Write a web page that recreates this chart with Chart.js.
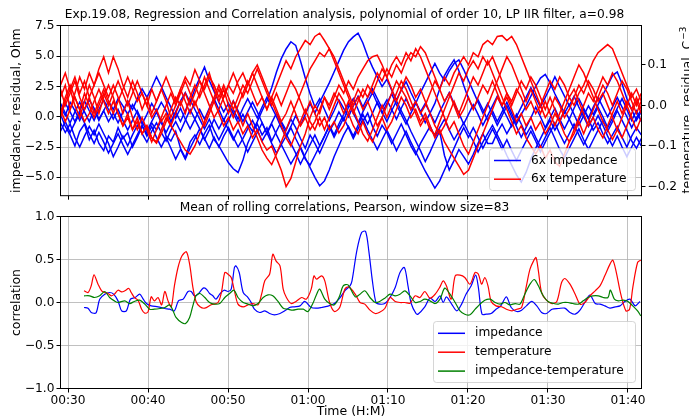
<!DOCTYPE html>
<html>
<head>
<meta charset="utf-8">
<script src="https://cdn.jsdelivr.net/npm/chart.js@4.4.1/dist/chart.umd.min.js"></script>
<style>
  html, body { margin: 0; padding: 0; background: #fff; }
  #wrap { position: relative; width: 689px; height: 419px; overflow: hidden; }
  #topChart { position: absolute; left: 0; top: 0; }
  #bottomChart { position: absolute; left: 0; top: 198px; }
</style>
</head>
<body>
<div id="wrap">
  <canvas id="topChart" width="689" height="205"></canvas>
  <canvas id="bottomChart" width="689" height="221"></canvas>
</div>
<script>
// time is in minutes after 00:30
const startMin = 30;
const timeTicks = [0, 10, 20, 30, 40, 50, 60, 70];
const impTicks = [-5, -2.5, 0, 2.5, 5, 7.5];
const tempTicks = [-0.2, -0.1, 0, 0.1];
const corrTicks = [-1, -0.5, 0, 0.5, 1];

// top panel: residual traces, sampled every 0.6 min from -0.94
const topStart = -0.94;
const topStep = 0.6;

// impedance residuals, Ohm
const imp1 = [0.2,-0.8,-1.5,-2.4,-1.2,-0.6,-1.9,-1.1,-2.2,-2.8,
  -1.6,-2.1,-0.9,-1.8,-1.3,-2.5,-1.7,-0.8,-1.4,-0.5,
  -1.1,-0.3,-1.6,-2.0,-1.2,-2.6,-3.4,-2.1,-1.5,-2.3,
  -1.4,-0.7,-1.9,-2.4,-3.1,-3.8,-4.3,-4.6,-3.6,-2.2,
  -1.3,-0.6,-1.5,-0.9,-2.0,-1.2,-0.4,-1.1,-0.2,-0.9,
  -1.8,-2.6,-1.5,-2.2,-3.0,-2.1,-1.2,-0.5,0.4,-0.3,
  0.8,1.5,0.6,-0.4,0.3,-0.8,-1.6,-0.7,-1.3,-2.2,
  -1.4,-0.6,-1.5,-2.4,-3.1,-2.2,-1.5,-0.8,-1.6,-0.9,
  -0.2,-1.1,-1.9,-1.2,-0.5,-1.3,-2.0,-2.9,-2.1,-1.4,
  -0.7,-1.5,-2.3,-3.2,-4.0,-4.8,-5.4,-4.6,-3.5,-2.6,
  -1.8,-1.0,-0.3,-1.1,-0.4,0.5,-0.2,-1.0,-0.3,0.6,
  -0.2,-1.1,-0.5,-1.4,-2.2,-1.5,-0.8,-1.7,-2.5,-1.6,
  -0.9,-1.5];
const imp2 = [0.8,0.1,1.2,0.5,-0.3,0.6,1.4,0.7,-0.2,0.5,
  1.3,0.6,1.5,0.9,0.2,1.0,0.3,-0.6,0.2,1.1,
  0.4,1.2,0.5,-0.4,0.4,1.3,2.0,1.2,2.3,3.2,
  4.1,3.0,2.1,1.2,0.4,1.1,0.3,-0.5,0.2,-0.6,
  -1.2,-0.4,0.5,1.3,2.4,3.7,4.8,5.6,6.2,5.9,
  4.6,3.2,1.9,0.8,1.5,0.6,-0.3,0.5,1.4,0.7,
  0.0,0.9,1.7,0.8,1.6,2.3,1.5,0.7,1.4,0.6,
  -0.2,0.7,1.5,0.6,1.2,0.4,-0.5,0.3,1.1,2.3,
  3.4,4.1,4.7,3.8,2.6,1.5,0.7,1.4,0.6,-0.3,
  0.5,-0.4,0.4,1.2,0.3,-0.6,0.2,0.9,1.7,2.5,
  3.2,3.5,2.8,1.9,1.1,0.3,1.0,0.2,-0.7,0.1,
  0.9,0.2,1.0,1.8,2.6,3.4,3.7,2.7,1.5,0.6,
  -0.3,0.4];
const imp3 = [-0.5,-1.3,-0.6,-1.7,-2.5,-1.6,-0.8,-1.5,-0.6,-1.4,
  -2.2,-3.3,-2.5,-1.6,-2.4,-1.5,-0.7,-1.4,-2.1,-1.2,
  -0.5,-1.3,-2.0,-1.1,-0.4,-1.2,-0.3,0.6,-0.2,-1.0,
  -1.8,-2.6,-1.7,-2.5,-1.6,-0.9,-1.7,-2.5,-1.8,-1.0,
  -0.3,-1.1,-2.0,-1.3,-2.2,-3.0,-2.3,-3.1,-3.9,-3.2,
  -2.5,-3.4,-4.2,-5.0,-5.7,-5.3,-4.4,-3.3,-2.4,-1.5,
  -0.8,-1.6,-0.7,0.2,-0.6,0.3,1.2,0.4,-0.4,0.5,
  1.3,0.5,-0.3,-1.2,-2.0,-2.8,-3.7,-2.9,-2.0,-1.2,
  -3.2,-4.4,-3.6,-2.7,-3.3,-3.9,-3.1,-2.2,-1.4,-2.2,
  -2.2,-1.3,-0.6,-1.4,-0.7,0.2,-0.6,-1.5,-0.8,-1.7,
  -2.5,-1.7,-0.9,-1.8,-2.7,-3.4,-2.6,-1.8,-1.0,-1.9,
  -2.7,-1.9,-1.1,-0.3,-1.2,-0.4,0.5,-0.3,-1.1,-2.0,
  -2.6,-1.8];
const imp4 = [1.1,0.3,-0.5,0.4,1.2,0.4,-0.4,0.6,-0.3,0.5,
  -0.4,0.3,-0.5,0.4,1.3,0.6,1.5,2.3,1.6,2.4,
  3.3,2.5,1.6,0.8,-0.1,0.7,-0.2,-1.0,-0.2,0.6,
  -0.2,0.7,1.5,0.6,-0.3,0.5,1.3,0.5,-0.4,0.4,
  1.2,0.4,-0.5,-1.4,-0.6,-1.5,-2.3,-1.6,-0.8,0.1,
  -0.7,0.2,1.1,0.3,1.2,2.0,2.8,3.7,4.6,5.5,
  6.2,6.6,6.9,6.1,5.0,4.1,3.3,2.5,3.1,2.2,
  1.4,2.2,2.9,2.0,1.2,0.4,1.1,0.3,-0.5,0.4,
  1.2,2.0,1.1,0.3,-0.6,0.2,1.0,0.2,-0.7,0.1,
  0.9,1.7,0.8,0.0,-0.8,0.0,0.8,1.6,2.4,1.6,
  0.8,1.6,2.4,3.3,2.5,1.7,0.9,1.7,0.8,0.0,
  -0.8,0.0,0.8,0.0,-0.9,-0.1,0.7,1.5,0.6,-0.3,
  0.5,-0.4];
const imp5 = [-1.2,-0.4,-1.3,-0.5,0.3,-0.5,-1.4,-2.2,-1.3,-2.1,
  -3.0,-2.2,-1.4,-2.3,-3.1,-2.3,-1.5,-0.7,-1.6,-0.8,
  -1.7,-2.5,-1.7,-2.6,-3.5,-2.7,-3.5,-2.6,-1.8,-1.0,
  -1.9,-1.1,-0.2,-1.0,-0.2,-1.1,-1.9,-1.1,-2.0,-2.9,
  -2.1,-1.3,-0.5,-1.3,-0.5,0.3,-0.5,-1.4,-2.2,-3.0,
  -3.9,-3.1,-2.3,-1.5,-2.4,-1.6,-0.8,-1.7,-0.9,-0.1,
  -0.9,-1.8,-1.0,-0.2,-1.1,-1.9,-2.7,-1.9,-1.1,-1.9,
  -2.8,-2.0,-1.2,-2.1,-2.9,-3.7,-4.5,-5.2,-5.9,-5.3,
  -4.4,-3.5,-2.6,-1.7,-0.9,-1.7,-0.9,-1.7,-2.6,-1.8,
  -1.0,-1.8,-2.7,-1.9,-2.8,-3.6,-2.8,-2.0,-1.2,-2.0,
  -2.9,-2.1,-1.3,-0.5,-1.4,-2.2,-1.4,-0.6,-1.5,-2.3,
  -1.5,-0.7,0.1,-0.7,-1.6,-2.4,-1.6,-2.5,-3.3,-2.5,
  -1.7,-2.4];
const imp6 = [0.3,1.1,0.4,-0.4,0.5,1.3,0.5,-0.3,0.6,1.4,
  0.6,-0.2,0.6,-0.3,-1.1,-0.3,0.5,-0.4,-1.2,-0.4,
  0.4,-0.5,-1.3,-0.5,0.4,-0.4,0.5,1.4,0.6,-0.2,
  -1.0,-0.2,-1.1,-1.9,-1.1,-0.3,0.6,-0.2,0.7,1.5,
  0.7,-0.1,0.8,1.6,0.8,0.0,-0.9,-1.7,-0.9,-1.8,
  -2.6,-3.5,-4.0,-3.2,-2.4,-1.6,-0.7,-1.5,-0.6,0.2,
  1.1,0.3,-0.5,0.4,1.2,2.0,1.1,0.3,1.1,1.9,
  1.0,0.2,-0.6,0.3,1.1,2.0,2.8,3.6,4.4,3.6,
  3.0,3.8,4.4,4.7,3.9,3.0,2.1,1.2,0.3,1.1,
  0.2,-0.7,0.1,0.9,0.0,-0.8,-1.7,-0.9,-0.1,0.8,
  0.0,-0.9,-0.1,0.7,-0.2,-1.0,-0.2,0.7,1.5,0.7,
  -0.1,0.8,1.6,0.8,0.0,0.8,1.6,0.8,0.0,-0.9,
  -0.1,0.6];

// temperature residuals, C
const temp1 = [0.02,0.05,-0.01,0.03,0.07,0.04,0.08,0.05,0.09,0.12,
  0.08,0.12,0.09,0.05,0.02,0.06,0.03,-0.01,0.02,-0.02,
  0.01,0.04,0.01,-0.03,0.00,0.04,0.01,-0.02,0.01,-0.02,
  -0.05,-0.02,0.01,-0.02,-0.05,-0.03,-0.06,-0.04,-0.07,-0.05,
  -0.08,-0.06,-0.09,-0.11,-0.10,-0.13,-0.16,-0.20,-0.18,-0.14,
  -0.10,-0.07,-0.03,0.00,-0.02,0.02,0.00,0.03,0.01,-0.02,
  0.01,-0.02,0.01,0.04,0.02,0.05,0.08,0.06,0.09,0.07,
  0.10,0.08,0.11,0.13,0.12,0.145,0.13,0.10,0.07,0.04,
  0.01,0.03,0.00,-0.03,-0.01,0.02,-0.01,0.02,0.05,0.03,
  0.06,0.03,0.00,0.02,-0.01,-0.04,-0.02,-0.05,-0.03,-0.06,
  -0.04,-0.07,-0.05,-0.02,-0.04,-0.01,0.02,0.00,0.03,0.05,
  0.08,0.11,0.13,0.14,0.15,0.14,0.11,0.08,0.05,0.02,
  0.04,0.01];
const temp2 = [-0.03,0.01,0.04,0.00,-0.03,0.01,0.05,0.02,-0.02,0.02,
  0.05,0.02,-0.02,-0.05,-0.02,-0.06,-0.03,-0.07,-0.05,-0.08,
  -0.09,-0.06,-0.03,-0.05,-0.02,0.01,-0.02,0.02,0.05,0.02,
  0.05,0.08,0.04,0.01,0.04,0.00,-0.03,0.00,0.03,0.06,
  0.03,0.00,0.02,-0.01,0.02,0.05,0.08,0.11,0.09,0.12,
  0.14,0.16,0.15,0.17,0.178,0.16,0.14,0.12,0.09,0.06,
  0.03,0.00,0.02,-0.01,0.01,-0.02,-0.05,-0.03,-0.06,-0.04,
  -0.01,0.02,0.00,-0.03,-0.01,-0.04,-0.02,-0.05,-0.08,-0.06,
  -0.09,-0.11,-0.13,-0.15,-0.17,-0.16,-0.13,-0.10,-0.07,-0.04,
  -0.01,0.02,0.00,0.03,0.01,0.04,0.02,-0.01,0.01,-0.02,
  0.00,0.03,0.06,0.04,0.07,0.05,0.02,0.04,0.01,-0.02,
  -0.05,-0.03,-0.06,-0.08,-0.05,-0.02,0.01,-0.02,0.01,-0.01,
  0.02,-0.01];
const temp3 = [0.04,0.00,0.03,0.06,0.02,-0.01,0.02,-0.02,0.01,0.04,
  0.01,-0.02,0.01,0.04,0.07,0.04,0.01,0.03,0.00,-0.03,
  -0.01,-0.04,-0.02,-0.05,-0.07,-0.09,-0.11,-0.12,-0.10,-0.07,
  -0.04,-0.01,0.02,0.05,0.02,0.05,0.08,0.05,0.02,0.05,
  0.08,0.05,0.02,-0.01,0.02,-0.01,-0.04,-0.02,0.01,-0.02,
  -0.05,-0.03,-0.06,-0.04,-0.01,0.02,-0.01,0.02,0.05,0.03,
  0.06,0.04,0.07,0.09,0.11,0.12,0.124,0.10,0.07,0.04,
  0.01,0.04,0.02,-0.01,0.01,-0.02,0.00,0.03,0.06,0.04,
  0.07,0.05,0.08,0.10,0.12,0.10,0.13,0.12,0.15,0.16,
  0.15,0.17,0.172,0.16,0.17,0.15,0.12,0.09,0.06,0.03,
  0.00,-0.03,-0.01,0.02,0.00,-0.03,-0.01,0.02,0.05,0.03,
  0.06,0.04,0.01,0.03,0.00,-0.03,-0.06,-0.08,-0.05,-0.02,
  0.01,-0.02];
const temp4 = [-0.02,0.02,0.05,0.02,-0.01,0.03,0.00,-0.03,0.00,0.03,
  0.00,0.03,0.06,0.03,0.00,0.03,0.06,0.03,0.00,0.04,
  0.01,0.04,0.07,0.04,0.01,0.04,0.07,0.05,0.088,0.06,
  0.03,0.00,-0.03,-0.01,0.02,0.05,0.03,0.06,0.08,0.05,
  0.08,0.10,0.07,0.04,0.01,-0.02,-0.05,-0.08,-0.10,-0.07,
  -0.04,-0.01,-0.04,-0.06,-0.03,-0.06,-0.03,0.00,0.03,0.01,
  -0.02,-0.05,-0.07,-0.04,-0.07,-0.09,-0.06,-0.03,0.00,0.03,
  0.06,0.04,0.07,0.05,0.02,0.04,0.01,-0.02,-0.05,-0.07,
  -0.05,-0.02,0.01,-0.02,0.01,0.04,0.07,0.05,0.08,0.11,
  0.08,0.05,0.02,-0.01,-0.04,-0.07,-0.05,-0.08,-0.10,-0.12,
  -0.10,-0.13,-0.11,-0.14,-0.15,-0.12,-0.09,-0.06,-0.03,0.00,
  0.03,0.01,0.04,0.07,0.05,0.08,0.06,0.03,0.00,-0.03,
  -0.06,-0.03];
const temp5 = [0.05,0.08,0.04,0.07,0.03,0.06,0.02,0.05,0.08,0.05,
  0.02,0.05,0.02,-0.02,0.01,-0.03,-0.06,-0.03,-0.06,-0.09,
  -0.06,-0.03,0.00,0.03,0.00,0.03,0.06,0.03,0.00,0.03,
  0.07,0.04,0.01,0.04,0.01,-0.02,0.01,-0.02,-0.05,-0.02,
  -0.05,-0.08,-0.11,-0.13,-0.146,-0.12,-0.09,-0.06,-0.03,0.00,
  0.03,0.06,0.09,0.11,0.13,0.12,0.14,0.11,0.08,0.05,
  0.02,-0.01,-0.04,-0.07,-0.088,-0.06,-0.03,0.00,-0.03,0.00,
  0.03,0.06,0.04,0.01,-0.02,-0.05,-0.03,-0.06,-0.072,-0.04,
  -0.01,0.02,0.05,0.08,0.06,0.09,0.11,0.09,0.12,0.10,
  0.12,0.09,0.06,0.03,0.00,0.03,0.06,0.04,0.07,0.05,
  0.02,-0.01,0.02,-0.01,-0.04,-0.07,-0.09,-0.07,-0.04,-0.07,
  -0.04,-0.01,0.02,0.05,0.03,0.00,0.03,0.06,0.04,0.01,
  -0.02,0.01];
const temp6 = [-0.01,-0.04,-0.01,0.02,-0.01,-0.04,-0.02,0.01,0.04,0.01,
  -0.02,0.01,-0.02,-0.05,-0.03,-0.06,-0.04,-0.07,-0.05,-0.08,
  -0.093,-0.07,-0.04,-0.01,0.02,0.00,0.03,0.00,0.03,0.06,
  0.04,0.07,0.05,0.02,0.05,0.02,-0.01,0.02,0.05,0.03,
  0.06,0.09,0.06,0.03,0.00,0.03,0.00,0.03,0.06,0.04,
  0.01,-0.02,0.01,-0.02,-0.05,-0.03,-0.06,-0.04,-0.068,-0.05,
  -0.02,0.01,0.04,0.02,0.05,0.03,0.06,0.09,0.07,0.10,
  0.12,0.10,0.13,0.11,0.14,0.12,0.09,0.06,0.03,0.00,
  -0.03,-0.06,-0.04,-0.07,-0.10,-0.12,-0.09,-0.06,-0.03,0.00,
  0.03,0.06,0.09,0.12,0.10,0.07,0.04,0.01,0.04,0.01,
  -0.02,0.01,-0.02,-0.05,-0.02,0.01,0.04,0.07,0.10,0.08,
  0.05,0.02,-0.01,-0.04,-0.06,-0.084,-0.06,-0.03,0.00,0.03,
  0.00,0.03];

// bottom panel: mean rolling correlations, [minutes after 00:30, r]
const corrImpedance = [[2,-0.058],[2.5,-0.066],[2.9,-0.116],[3.5,-0.12],[3.96,0.039],[4.6,0.097],[5.2,0.116],[5.7,0.097],[6.25,0.019],[6.7,-0.097],[7.3,-0.097],[7.8,0.039],[8.4,0.058],[8.96,0.097],[9.4,0.039],[9.8,-0.012],[10.4,-0.039],[11.25,-0.05],[12.1,-0.07],[12.7,-0.078],[13.3,-0.097],[13.8,0.019],[14.4,0.039],[15,0.128],[15.4,0.128],[15.8,0.078],[16.25,0.097],[16.9,0.167],[17.3,0.155],[17.7,0.105],[18.1,0.078],[18.5,0.039],[18.96,0.097],[19.5,0.143],[20,0.128],[20.4,0.155],[20.8,0.407],[21,0.426],[21.4,0.349],[21.9,0.116],[22.5,0.058],[22.9,0],[23.3,-0.078],[23.96,-0.116],[24.6,-0.097],[25.2,-0.128],[25.8,-0.143],[26.5,-0.128],[27.1,-0.097],[27.7,-0.058],[28.3,-0.05],[29,-0.039],[29.6,0.012],[30.4,-0.058],[31,-0.066],[31.7,-0.058],[32.5,-0.043],[33.3,-0.012],[33.96,0.05],[34.6,0.136],[35.25,0.194],[35.5,0.252],[36.1,0.601],[36.7,0.814],[37.2,0.826],[37.6,0.601],[38.05,0.252],[38.5,0],[38.96,-0.019],[39.6,-0.012],[40.25,0.058],[40.9,0.174],[41.5,0.349],[42.05,0.407],[42.5,0.194],[42.9,-0.012],[43.5,-0.128],[43.75,-0.136],[44.6,-0.05],[45.25,0.05],[45.9,0.012],[46.5,0.078],[46.9,0],[47.3,0.066],[47.96,-0.019],[48.6,-0.097],[49.2,-0.019],[49.75,0.097],[50.4,0.194],[50.96,0.318],[51.3,0.174],[51.75,-0.136],[52.3,-0.136],[52.9,-0.128],[53.5,-0.078],[54.1,-0.039],[54.8,0.066],[55.4,-0.058],[56.1,-0.105],[56.7,-0.089],[57.3,-0.039],[57.96,0.012],[58.6,-0.039],[59.2,-0.116],[59.8,-0.128],[60.5,-0.078],[61.3,-0.07],[62.1,-0.066],[62.75,-0.116],[63.4,-0.136],[64,-0.089],[64.6,0],[65.25,0.085],[65.9,-0.012],[66.5,-0.019],[67.1,-0.039],[67.75,-0.066],[68.4,-0.05],[69,-0.039],[69.6,0.012],[70.25,0.039],[70.9,-0.039],[71.5,0.012]];
const corrTemperature = [[2,0.136],[2.5,0.116],[2.9,0.194],[3.25,0.322],[3.75,0.213],[4.2,0.136],[4.6,0.116],[5,0.105],[5.4,0.078],[5.8,0.097],[6.25,0.143],[6.7,0.124],[7.1,0.136],[7.6,0.163],[7.9,0.116],[8.3,0.058],[8.75,0.027],[9.2,-0.078],[9.6,-0.124],[10,-0.109],[10.4,0.066],[10.8,0.019],[11.25,0.058],[11.7,-0.027],[12.1,0.128],[12.5,0.019],[12.9,-0.05],[13.3,0.194],[13.75,0.407],[14.25,0.543],[14.8,0.589],[15.2,0.446],[15.6,0.182],[16,0.012],[16.5,-0.05],[17.1,-0.066],[17.9,-0.027],[18.75,0],[19.2,0.128],[19.6,0.349],[20,0.329],[20.4,0.291],[20.8,0.136],[21.25,-0.019],[21.9,-0.05],[22.5,-0.027],[23.1,-0.012],[23.75,-0.027],[24.2,0.097],[24.6,0.252],[25.2,0.329],[25.6,0.562],[26,0.484],[26.5,0.426],[26.9,0.155],[27.3,0.058],[27.9,-0.012],[28.5,0.012],[29.2,0.058],[29.8,0.039],[30.4,0.155],[30.75,0.31],[31.05,0.271],[31.7,0.31],[32.1,0.252],[32.7,0],[33.3,-0.105],[33.96,-0.058],[34.6,0.155],[35.1,0.182],[35.9,0.097],[36.5,0],[37.1,-0.019],[37.75,-0.089],[38.4,-0.128],[38.9,-0.116],[39.6,-0.07],[40.25,0.058],[40.9,0.012],[41.5,0],[42.1,0],[42.75,-0.008],[43.4,0.078],[44,0.058],[44.6,0.128],[45.25,0.05],[45.9,0.097],[46.5,0.182],[46.9,0.252],[47.3,0.194],[47.9,0.039],[48.4,0.31],[49,0.318],[49.6,0.291],[50.25,0.213],[50.9,0.349],[51.3,0.329],[51.7,0.213],[52.1,0.291],[52.5,0.194],[52.9,0.012],[53.5,-0.039],[54.2,-0.05],[54.8,-0.078],[55.5,-0.097],[56.1,-0.078],[56.7,-0.058],[57.3,0.194],[57.75,0.388],[58.2,0.484],[58.5,0.523],[58.8,0.368],[59.2,0.116],[59.8,0.027],[60.5,-0.012],[61.1,0.012],[61.7,0.233],[62.1,0.279],[62.75,0.213],[63.4,0.097],[64,-0.019],[64.6,0],[65.25,0.078],[65.9,0.136],[66.5,0.194],[67.1,0.31],[67.75,0.446],[68.1,0.492],[68.5,0.368],[69.1,0.097],[69.75,-0.097],[70.2,-0.078],[70.6,0.174],[71.2,0.465],[71.6,0.492]];
const corrImpTemp = [[2,0.078],[2.7,0.078],[3.3,0.058],[3.96,0.078],[4.6,0.128],[5.2,0.058],[5.8,0.019],[6.25,0],[7.1,0.019],[7.7,-0.012],[8.3,0.012],[8.96,0.027],[9.6,-0.019],[10.2,-0.078],[10.8,-0.078],[11.5,-0.07],[12.1,-0.058],[12.7,-0.027],[13.1,-0.089],[13.5,-0.174],[14.2,-0.233],[14.7,-0.244],[15.2,-0.174],[15.6,-0.039],[16,0.078],[16.5,0.105],[17.1,0.058],[17.7,0],[18.3,-0.019],[18.96,-0.012],[19.6,0.058],[20.2,0.105],[20.75,0.143],[21.25,0.058],[21.9,0],[22.5,-0.019],[23.1,-0.039],[23.75,-0.012],[24.4,0.058],[25,0.089],[25.6,0.078],[26.25,0.012],[26.9,-0.066],[27.5,-0.078],[28.1,-0.089],[28.75,-0.078],[29.4,-0.078],[30,-0.105],[30.6,-0.012],[31,0.078],[31.45,0.155],[32.1,0.039],[32.7,-0.012],[33.3,-0.027],[33.96,0.078],[34.4,0.194],[35,0.205],[35.9,0.066],[36.5,0.097],[37.1,0.136],[37.75,0.058],[38.4,0],[38.96,0.012],[39.6,0.05],[40.25,0.097],[40.9,0.078],[41.5,0.097],[42.1,0.136],[42.75,0.078],[43.4,0],[44,0.012],[44.6,0.039],[45.25,0.019],[45.9,-0.012],[46.5,0.039],[47.1,0.167],[47.75,0.097],[48.4,0],[49,-0.097],[49.6,-0.136],[50.25,-0.143],[50.9,-0.078],[51.5,-0.019],[52.1,0.027],[52.75,0.039],[53.4,0],[54,-0.019],[54.6,0],[55.25,-0.027],[55.9,-0.012],[56.5,-0.019],[57.1,0.097],[57.75,0.213],[58.3,0.267],[58.8,0.194],[59.4,0.078],[60,0.012],[60.7,-0.012],[61.3,-0.019],[61.9,0],[62.5,0],[63.1,-0.012],[63.8,-0.019],[64.4,0.019],[65,0.058],[65.6,0.078],[66.3,0.078],[66.9,0.058],[67.5,0.058],[67.8,0.143],[68.3,0.039],[68.8,0.019],[69.4,0.027],[70,0.012],[70.6,-0.039],[71.2,-0.097],[71.6,-0.155]];

const impTraces = [imp1, imp2, imp3, imp4, imp5, imp6];
const tempTraces = [temp1, temp2, temp3, temp4, temp5, temp6];

const FONT = "DejaVu Sans";
const BLUE = "#0000ff", RED = "#ff0000", GREEN = "#008000";
const GRID = "#b0b0b0";

function minus(v, d) {
  const s = Math.abs(v).toFixed(d);
  return v < -1e-9 ? "\u2212" + s : s;
}

function clockLabel(m) {
  const t = Math.round(startMin + m);
  const h = Math.floor(t / 60), mm = t % 60;
  return String(h).padStart(2, "0") + ":" + String(mm).padStart(2, "0");
}

function setTicks(values) {
  return (scale) => { scale.ticks = values.map(v => ({ value: v })); };
}

// black box round the plot area, over the lines
const framePlugin = {
  id: "frame",
  afterDatasetsDraw(chart) {
    const { ctx, chartArea: a } = chart;
    ctx.save();
    ctx.strokeStyle = "#000";
    ctx.lineWidth = 1;
    ctx.strokeRect(a.left, a.top, a.right - a.left, a.bottom - a.top);
    ctx.restore();
  }
};

// matplotlib-like legend box
function legendBox(id, items, box) {
  return {
    id,
    afterDraw(chart) {
      const ctx = chart.ctx;
      ctx.save();
      ctx.beginPath();
      ctx.roundRect(box.x, box.y, box.w, box.h, 3);
      ctx.fillStyle = "rgba(255,255,255,0.8)";
      ctx.fill();
      ctx.strokeStyle = "rgba(204,204,204,0.8)";
      ctx.lineWidth = 1;
      ctx.stroke();
      ctx.font = "12.2px '" + FONT + "'";
      ctx.textBaseline = "middle";
      items.forEach((it, k) => {
        const y = box.rowY + k * box.rowH;
        ctx.strokeStyle = it.color;
        ctx.lineWidth = 1.5;
        ctx.beginPath();
        ctx.moveTo(box.lineX0, y);
        ctx.lineTo(box.lineX1, y);
        ctx.stroke();
        ctx.fillStyle = "#000";
        ctx.fillText(it.label, box.textX, y);
      });
      ctx.restore();
    }
  };
}

// right axis title reads bottom-to-top as in matplotlib
const rightTitle = {
  id: "rightTitle",
  afterDraw(chart) {
    const { ctx, chartArea: a } = chart;
    const main = "temperature, residual, C";
    const sup = "\u22123";
    ctx.save();
    ctx.font = "12.5px '" + FONT + "'";
    const w1 = ctx.measureText(main).width;
    ctx.font = "8.8px '" + FONT + "'";
    const w2 = ctx.measureText(sup).width;
    ctx.translate(691, (a.top + a.bottom) / 2);
    ctx.rotate(-Math.PI / 2);
    ctx.fillStyle = "#000";
    ctx.textBaseline = "alphabetic";
    ctx.font = "12.5px '" + FONT + "'";
    ctx.fillText(main, -(w1 + w2) / 2, 0);
    ctx.font = "8.8px '" + FONT + "'";
    ctx.fillText(sup, -(w1 + w2) / 2 + w1 + 1, -5);
    ctx.restore();
  }
};

const tickFont = { family: FONT, size: 12.2 };
const labelFont = { family: FONT, size: 12.5 };

function xScale(showLabels, height) {
  return {
    type: "linear",
    min: -0.94,
    max: 71.69,
    afterBuildTicks: setTicks(timeTicks),
    afterFit: (s) => { s.height = height; },
    grid: { color: GRID, lineWidth: 0.8, tickColor: "#000", tickLength: 4, tickWidth: 1 },
    border: { display: false },
    ticks: {
      display: showLabels, autoSkip: false, maxRotation: 0, padding: 1,
      color: "#000", font: tickFont,
      callback: (v) => clockLabel(v)
    },
    title: {
      display: showLabels, text: "Time (H:M)", color: "#000", font: labelFont,
      padding: { top: 0, bottom: 0 }
    }
  };
}

const topTime = imp1.map((_, i) => topStart + i * topStep);

const topDatasets = [];
tempTraces.forEach(tr => topDatasets.push({
  data: tr.map((v, i) => ({ x: topTime[i], y: v })),
  yAxisID: "y2", borderColor: RED, borderWidth: 1.5, order: 1
}));
impTraces.forEach(tr => topDatasets.push({
  data: tr.map((v, i) => ({ x: topTime[i], y: v })),
  yAxisID: "y", borderColor: BLUE, borderWidth: 1.5, order: 2
}));

Chart.defaults.font.family = FONT;

new Chart(document.getElementById("topChart"), {
  type: "line",
  data: { datasets: topDatasets },
  options: {
    responsive: false,
    animation: false,
    events: [],
    parsing: false,
    elements: { point: { radius: 0 }, line: { tension: 0 } },
    datasets: { line: { clip: 0 } },
    layout: { padding: 0 },
    plugins: {
      legend: { display: false },
      tooltip: { enabled: false },
      title: {
        display: true,
        text: "Exp.19.08, Regression and Correlation analysis, polynomial of order 10, LP IIR filter, a=0.98",
        color: "#000",
        font: { family: FONT, size: 12.2, weight: "normal", lineHeight: 1.2 },
        padding: { top: 8, bottom: 2.86 }
      }
    },
    scales: {
      x: xScale(false, 8.5),
      y: {
        position: "left",
        min: -6.52, max: 7.54,
        afterBuildTicks: setTicks(impTicks),
        afterFit: (s) => { s.width = 60.5; },
        grid: { color: GRID, lineWidth: 0.8, tickColor: "#000", tickLength: 4, tickWidth: 1 },
        border: { display: false },
        ticks: { color: "#000", font: tickFont, padding: 2, callback: (v) => minus(v, 1) },
        title: {
          display: true, text: "impedance, residual, Ohm", color: "#000", font: labelFont,
          padding: { top: 9, bottom: 0 }
        }
      },
      y2: {
        position: "right",
        min: -0.2226, max: 0.197,
        afterBuildTicks: setTicks(tempTicks),
        afterFit: (s) => { s.width = 47.5; },
        grid: { drawOnChartArea: false, tickColor: "#000", tickLength: 4, tickWidth: 1 },
        border: { display: false },
        ticks: { color: "#000", font: tickFont, padding: 2, callback: (v) => minus(v, 1) }
      }
    }
  },
  plugins: [
    framePlugin,
    rightTitle,
    legendBox("topLegend", [
      { label: "6x impedance", color: BLUE },
      { label: "6x temperature", color: RED }
    ], { x: 489.5, y: 148.5, w: 146, h: 42, rowY: 160.5, rowH: 18.7, lineX0: 494, lineX1: 521, textX: 531 })
  ]
});

const toPoints = (pairs) => pairs.map(p => ({ x: p[0], y: p[1] }));

new Chart(document.getElementById("bottomChart"), {
  type: "line",
  data: {
    datasets: [
      { data: toPoints(corrImpedance), borderColor: BLUE, borderWidth: 1.2, order: 3 },
      { data: toPoints(corrTemperature), borderColor: RED, borderWidth: 1.2, order: 2 },
      { data: toPoints(corrImpTemp), borderColor: GREEN, borderWidth: 1.2, order: 1 }
    ]
  },
  options: {
    responsive: false,
    animation: false,
    events: [],
    parsing: false,
    elements: { point: { radius: 0 }, line: { tension: 0.3 } },
    datasets: { line: { clip: 0 } },
    layout: { padding: 0 },
    plugins: {
      legend: { display: false },
      tooltip: { enabled: false },
      title: {
        display: true,
        text: "Mean of rolling correlations, Pearson, window size=83",
        color: "#000",
        font: { family: FONT, size: 12.2, weight: "normal", lineHeight: 1.2 },
        padding: { top: 2.5, bottom: 1.36 }
      }
    },
    scales: {
      x: xScale(true, 30.5),
      y: {
        position: "left",
        min: -1, max: 1,
        afterBuildTicks: setTicks(corrTicks),
        afterFit: (s) => { s.width = 60.5; },
        grid: { color: GRID, lineWidth: 0.8, tickColor: "#000", tickLength: 4, tickWidth: 1 },
        border: { display: false },
        ticks: { color: "#000", font: tickFont, padding: 2, callback: (v) => minus(v, 1) },
        title: {
          display: true, text: "correlation", color: "#000", font: labelFont,
          padding: { top: 9, bottom: 0 }
        }
      },
      yR: {
        position: "right",
        display: true,
        min: -1, max: 1,
        afterFit: (s) => { s.width = 47.5; },
        grid: { display: false },
        border: { display: false },
        ticks: { display: false }
      }
    }
  },
  plugins: [
    framePlugin,
    legendBox("bottomLegend", [
      { label: "impedance", color: BLUE },
      { label: "temperature", color: RED },
      { label: "impedance-temperature", color: GREEN }
    ], { x: 433.5, y: 123.5, w: 202, h: 61, rowY: 135.3, rowH: 18.9, lineX0: 438, lineX1: 465, textX: 475 })
  ]
});
</script>
</body>
</html>
